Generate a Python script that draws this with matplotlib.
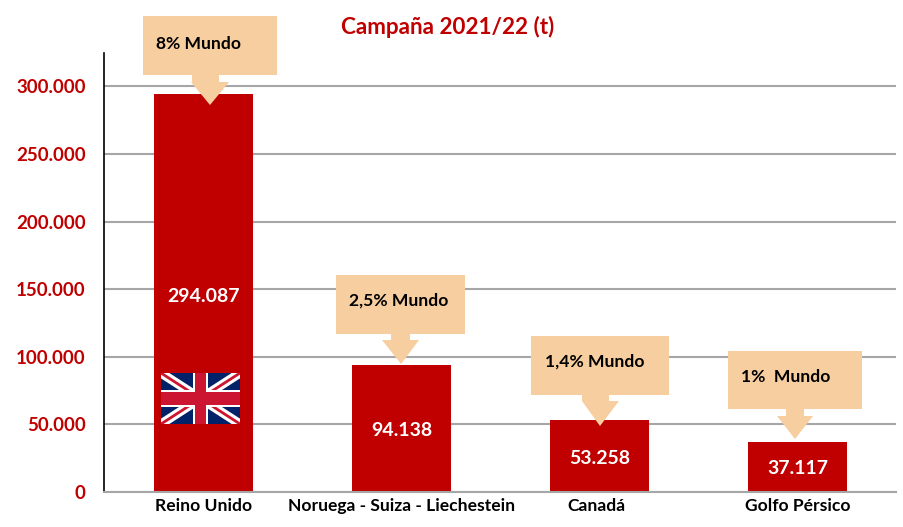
import matplotlib
matplotlib.use("Agg")
import matplotlib.pyplot as plt
from matplotlib.patches import Polygon, Rectangle
from matplotlib.transforms import ScaledTranslation

plt.rcParams['font.family'] = ['Lato', 'DejaVu Sans']

categories = ["Reino Unido", "Noruega - Suiza - Liechestein", "Canadá", "Golfo Pérsico"]
values = [294087, 94138, 53258, 37117]
value_labels = ["294.087", "94.138", "53.258", "37.117"]
shares = ["8% Mundo", "2,5% Mundo", "1,4% Mundo", "1%  Mundo"]
yticks = [0, 50000, 100000, 150000, 200000, 250000, 300000]
ytick_labels = ["0", "50.000", "100.000", "150.000", "200.000", "250.000", "300.000"]
title = "Campaña 2021/22 (t)"

W, H = 904, 527
RED = "#C00000"
PEACH = "#F7CE9F"
fig = plt.figure(figsize=(W / 100, H / 100), dpi=100)
L, R, T, B = 104.5, 896.5, 53, 492
ax = fig.add_axes([L / W, 1 - B / H, (R - L) / W, (B - T) / H])
ax.set_xlim(-0.5, 3.5)
ax.set_ylim(0, 300000 * (B - T) / 405.5)
ax.yaxis.grid(True, color="#A6A6A6", lw=1.5)
ax.set_axisbelow(True)
ax.bar(range(4), values, width=0.5, color=RED, zorder=2)
for s in ("top", "right"):
    ax.spines[s].set_visible(False)
ax.spines["bottom"].set_color("#A6A6A6")
ax.spines["bottom"].set_linewidth(1.5)
ax.spines["left"].set_color("black")
ax.spines["left"].set_linewidth(1.2)
ax.set_yticks(yticks, ytick_labels, color=RED, fontweight="bold", fontsize=13.5)
ax.set_xticks(range(4), categories, fontweight="bold", fontsize=12.6)
ax.tick_params(axis="both", length=0, pad=13.5)
ax.tick_params(axis="x", pad=4)

# "Canadá" sits about 3 px left of its bar centre in the reference
lab = ax.get_xticklabels()[2]
lab.set_transform(lab.get_transform() + ScaledTranslation(-3 / 100, 0, fig.dpi_scale_trans))


def P(x, y):
    return (x / W, 1 - y / H)


label_y = [296, 431, 458, 468]
for i, (lab_txt, py) in enumerate(zip(value_labels, label_y)):
    fig.text(*P(203.5 + 198 * i, py), lab_txt, color="white", fontweight="bold",
             fontsize=14, ha="center", va="center", zorder=5)

# callouts in pixels: rect(x0,x1,y0,y1), shaft(x0,x1), head(x0,x1,y), tip(x,y), text pos
callouts = [
    ((143, 277, 16, 75), (192, 219), (191, 229, 82), (210, 105), (156, 44)),
    ((336, 465, 275, 334), (391, 410), (382, 419, 340), (401, 364), (349, 301)),
    ((531, 669, 336, 395), (582, 609), (582, 619, 401), (600, 426), (545, 362)),
    ((728, 862, 351, 409), (786, 804), (777, 813, 416), (795, 439), (741, 377)),
]

for (rect, shaft, head, tip, tpos), txt in zip(callouts, shares):
    x0, x1, y0, y1 = rect
    pts = [(x0, y0), (x1, y0), (x1, y1), (shaft[1], y1), (shaft[1], head[2]), (head[1], head[2]),
           tip, (head[0], head[2]), (shaft[0], head[2]), (shaft[0], y1), (x0, y1)]
    fig.add_artist(Polygon([P(*p) for p in pts], closed=True, transform=fig.transFigure,
                           fc=PEACH, ec="none", zorder=4))
    fig.text(*P(*tpos), txt, color="black", fontweight="bold", fontsize=12.6,
             ha="left", va="center", zorder=5)

fig.text(*P(447.5, 27), title, color=RED, fontweight="bold", fontsize=16.2, ha="center", va="center")

# flag
fl = fig.add_axes([161 / W, 1 - 424 / H, 79 / W, 51 / H], zorder=6)
fl.set_xlim(0, 60)
fl.set_ylim(0, 30)
fl.axis("off")
fl.add_patch(Rectangle((0, 0), 60, 30, fc="#012169", ec="none"))
fl.plot([0, 60], [0, 30], color="white", lw=6.5, solid_capstyle="butt")
fl.plot([0, 60], [30, 0], color="white", lw=6.5, solid_capstyle="butt")
fl.plot([0, 60], [0, 30], color="#CC1530", lw=2, solid_capstyle="butt")
fl.plot([0, 60], [30, 0], color="#CC1530", lw=2, solid_capstyle="butt")
fl.add_patch(Rectangle((24.5, 0), 11, 30, fc="white", ec="none", zorder=3))
fl.add_patch(Rectangle((0, 10), 60, 10, fc="white", ec="none", zorder=3))
fl.add_patch(Rectangle((26, 0), 8, 30, fc="#CC1530", ec="none", zorder=4))
fl.add_patch(Rectangle((0, 11), 60, 8, fc="#CC1530", ec="none", zorder=4))

fig.savefig("out.png", dpi=100)
